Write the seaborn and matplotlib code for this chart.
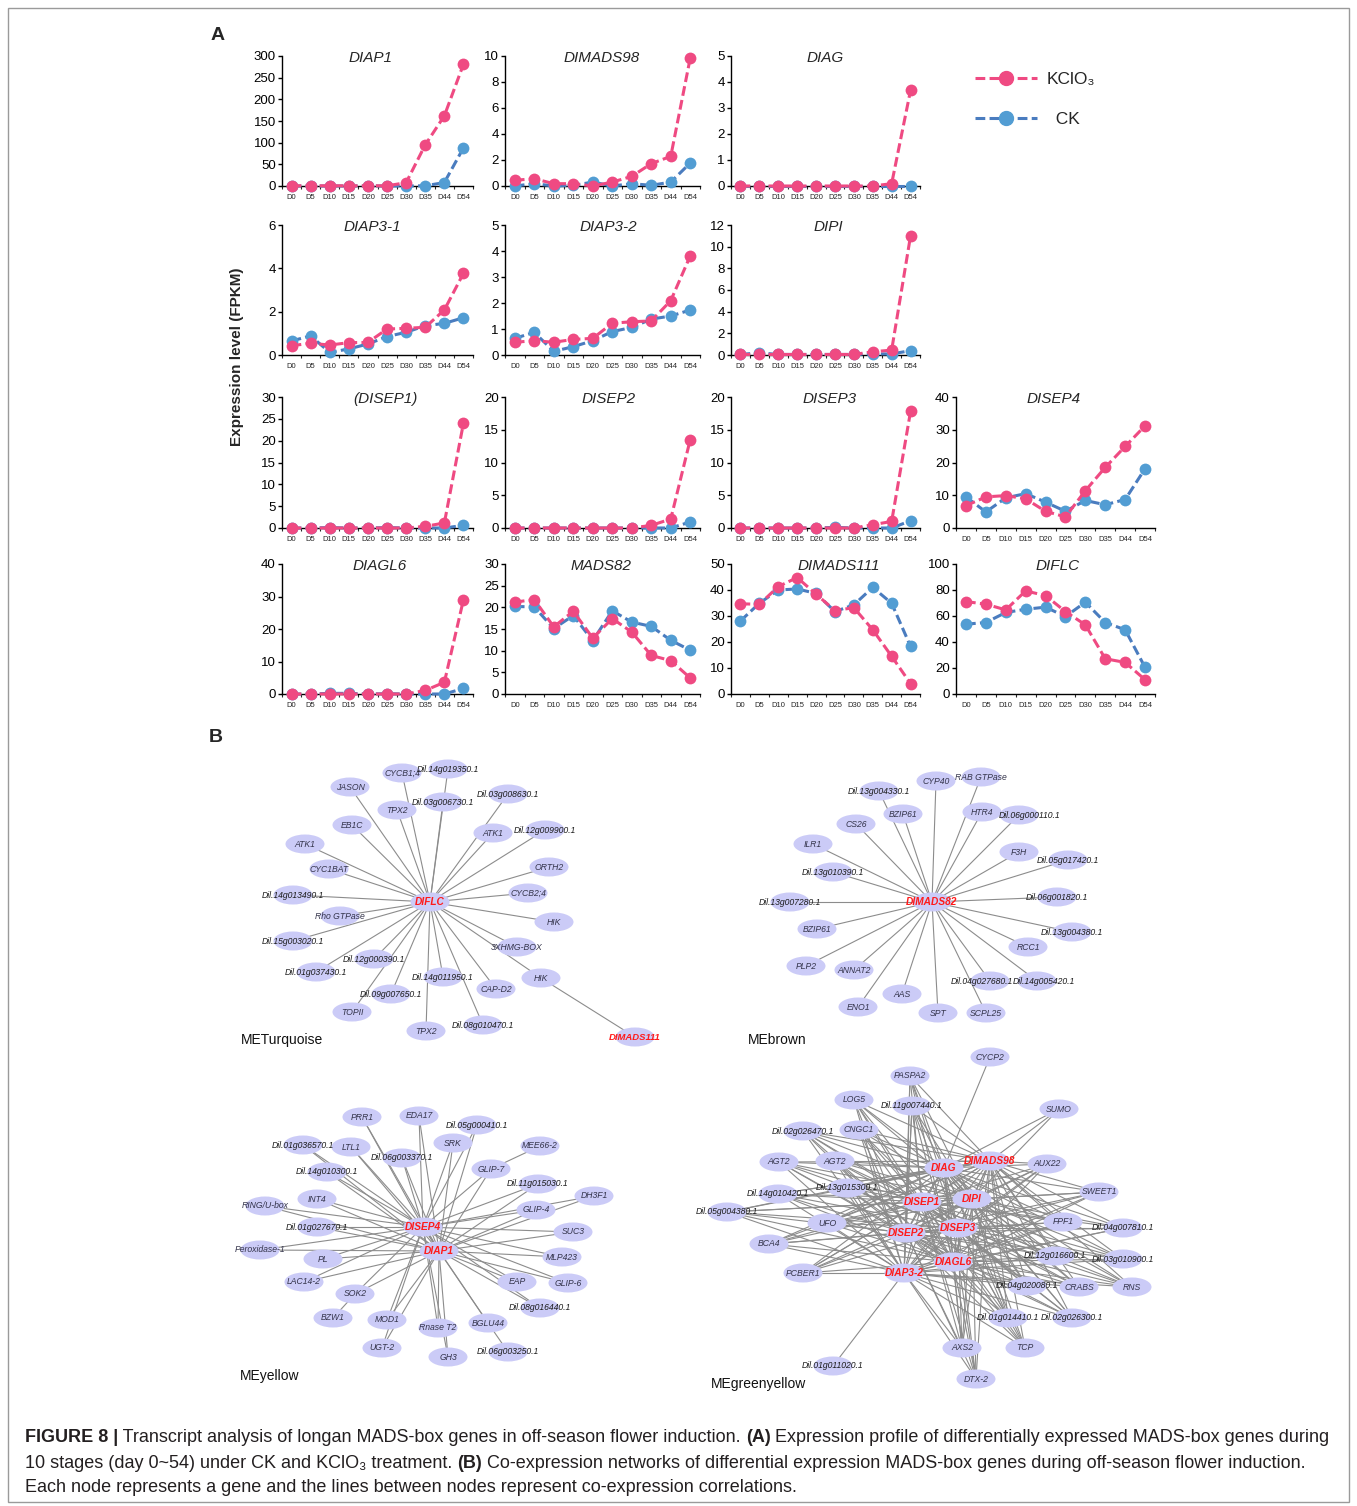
"""Figure 8 -- MADS-box expression profiles (A) and co-expression networks (B)."""

import numpy as np
import pandas as pd
import matplotlib
matplotlib.use("Agg")
import matplotlib.pyplot as plt
from matplotlib import font_manager
from matplotlib.lines import Line2D
from matplotlib.patches import Ellipse, Rectangle
import seaborn as sns

# ── A: expression data (FPKM) ────────────────────────────────────────────
stages = ["D0", "D5", "D10", "D15", "D20", "D25", "D30", "D35", "D44", "D54"]

diap1_kclo3 = [0.5, 0.5, 0.5, 0.5, 0.5, 0.5, 7.7, 95, 162, 281]
diap1_ck = [0, 0, 0, 0, 0, 0, 0, 0.5, 8, 88]
dimads98_kclo3 = [0.44, 0.56, 0.18, 0.18, 0.0, 0.3, 0.74, 1.72, 2.28, 9.85]
dimads98_ck = [0.0, 0.18, 0.0, 0.05, 0.3, 0.0, 0.18, 0.05, 0.3, 1.77]
diag_kclo3 = [0, 0, 0, 0, 0, 0, 0, 0, 0.09, 3.68]
diag_ck = [0, 0, 0, 0, 0, 0, 0, 0, 0, 0]
diap31_kclo3 = [0.43, 0.54, 0.46, 0.57, 0.58, 1.2, 1.23, 1.28, 2.08, 3.77]
diap31_ck = [0.65, 0.88, 0.12, 0.28, 0.51, 0.85, 1.05, 1.35, 1.46, 1.72]
diap32_kclo3 = [0.49, 0.55, 0.49, 0.6, 0.64, 1.22, 1.28, 1.31, 2.09, 3.81]
diap32_ck = [0.64, 0.87, 0.14, 0.32, 0.55, 0.9, 1.06, 1.38, 1.5, 1.73]
dipi_kclo3 = [0.05, 0.05, 0.05, 0.05, 0.05, 0.05, 0.05, 0.3, 0.45, 11.0]
dipi_ck = [0.05, 0.2, 0.05, 0.05, 0.05, 0.05, 0.05, 0.1, 0.1, 0.4]
disep1_kclo3 = [0, 0, 0, 0, 0, 0, 0, 0.38, 1.15, 24.0]
disep1_ck = [0, 0, 0.1, 0, 0, 0.1, 0, 0, 0, 0.6]
disep2_kclo3 = [0, 0, 0, 0, 0, 0, 0, 0.4, 1.37, 13.5]
disep2_ck = [0, 0, 0, 0, 0, 0, 0, 0, 0, 0.92]
disep3_kclo3 = [0, 0, 0, 0, 0, 0, 0, 0.5, 1.0, 17.8]
disep3_ck = [0, 0, 0, 0, 0, 0.1, 0, 0, 0, 1.1]
disep4_kclo3 = [6.8, 9.5, 9.9, 8.9, 5.1, 3.4, 11.4, 18.5, 24.9, 31.2]
disep4_ck = [9.5, 4.9, 9.2, 10.5, 7.9, 5.1, 8.4, 7.1, 8.7, 18.1]
diagl6_kclo3 = [0, 0, 0, 0, 0, 0, 0, 1.1, 3.6, 29.0]
diagl6_ck = [0, 0, 0.2, 0.2, 0, 0.1, 0, 0, 0, 1.7]
mads82_kclo3 = [21.2, 21.8, 15.5, 19.1, 12.9, 17.4, 14.3, 8.9, 7.7, 3.7]
mads82_ck = [20.2, 20.1, 15.1, 18.1, 12.3, 19.2, 16.6, 15.6, 12.4, 10.1]
dimads111_kclo3 = [34.7, 34.5, 41.3, 44.8, 38.4, 32.1, 33.2, 24.7, 14.5, 4.0]
dimads111_ck = [28.1, 34.9, 40.0, 40.4, 38.7, 31.7, 34.3, 41.0, 34.9, 18.3]
diflc_kclo3 = [71.1, 69.1, 64.7, 79.3, 75.7, 63.4, 53.2, 27.1, 24.3, 11.0]
diflc_ck = [53.7, 55.0, 62.7, 65.2, 66.8, 59.6, 70.6, 55.0, 49.4, 20.5]

# title, KClO3 series, CK series, y max, y step
panels = [
    ("DIAP1", diap1_kclo3, diap1_ck, 300, 50),
    ("DIMADS98", dimads98_kclo3, dimads98_ck, 10, 2),
    ("DIAG", diag_kclo3, diag_ck, 5, 1),
    ("DIAP3-1", diap31_kclo3, diap31_ck, 6, 2),
    ("DIAP3-2", diap32_kclo3, diap32_ck, 5, 1),
    ("DIPI", dipi_kclo3, dipi_ck, 12, 2),
    ("(DISEP1)", disep1_kclo3, disep1_ck, 30, 5),
    ("DISEP2", disep2_kclo3, disep2_ck, 20, 5),
    ("DISEP3", disep3_kclo3, disep3_ck, 20, 5),
    ("DISEP4", disep4_kclo3, disep4_ck, 40, 10),
    ("DIAGL6", diagl6_kclo3, diagl6_ck, 40, 10),
    ("MADS82", mads82_kclo3, mads82_ck, 30, 5),
    ("DIMADS111", dimads111_kclo3, dimads111_ck, 50, 10),
    ("DIFLC", diflc_kclo3, diflc_ck, 100, 20),
]

# ── B: co-expression networks ────────────────────────────────────────────
turq_hub = "DIFLC"
turq_genes = ["CYCB1;4", "Dil.14g019350.1", "JASON", "TPX2", "Dil.03g006730.1",
              "Dil.03g008630.1", "EB1C", "ATK1", "Dil.12g009900.1", "ATK1", "ORTH2",
              "CYC1BAT", "CYCB2;4", "Dil.14g013490.1", "HIK", "Rho GTPase",
              "3XHMG-BOX", "Dil.15g003020.1", "Dil.12g000390.1", "Dil.01g037430.1",
              "HIK", "Dil.14g011950.1", "CAP-D2", "Dil.09g007650.1", "TOPII", "TPX2",
              "Dil.08g010470.1"]
turq_extra = "DIMADS111"          # hangs off the second HIK

brown_hub = "DIMADS82"
brown_genes = ["CYP40", "RAB GTPase", "Dil.13g004330.1", "BZIP61", "HTR4",
               "Dil.06g000110.1", "CS26", "ILR1", "F3H", "Dil.05g017420.1",
               "Dil.13g010390.1", "Dil.13g007280.1", "Dil.06g001820.1", "BZIP61",
               "Dil.13g004380.1", "RCC1", "PLP2", "ANNAT2", "Dil.04g027680.1",
               "Dil.14g005420.1", "AAS", "ENO1", "SPT", "SCPL25"]

yellow_hubs = ["DISEP4", "DIAP1"]
yellow_genes = ["PRR1", "EDA17", "Dil.05g000410.1", "Dil.01g036570.1", "LTL1", "SRK",
                "MEE66-2", "Dil.06g003370.1", "GLIP-7", "Dil.14g010300.1",
                "Dil.11g015030.1", "DH3F1", "INT4", "RING/U-box", "GLIP-4",
                "Dil.01g027670.1", "SUC3", "Peroxidase-1", "PL", "MLP423", "LAC14-2",
                "EAP", "GLIP-6", "SOK2", "Dil.08g016440.1", "BZW1", "MOD1", "Rnase T2",
                "BGLU44", "UGT-2", "GH3", "Dil.06g003250.1"]
# satellite genes linked to a neighbour instead of the hubs
yellow_side = {"MEE66-2": "GLIP-7", "BZW1": "SOK2", "Dil.06g003250.1": "BGLU44"}

gy_hubs = ["DIAG", "DIMADS98", "DISEP1", "DIPI", "DISEP2", "DISEP3", "DIAGL6", "DIAP3-2"]
gy_genes = ["CYCP2", "PASPA2", "LOG5", "Dil.11g007440.1", "SUMO", "Dil.02g026470.1",
            "CNGC1", "AGT2", "AGT2", "AUX22", "Dil.13g015300.1", "Dil.14g010420.1",
            "SWEET1", "Dil.05g004380.1", "UFO", "FPF1", "Dil.04g007810.1", "BCA4",
            "Dil.12g016600.1", "Dil.03g010900.1", "PCBER1", "Dil.04g020080.1", "CRABS",
            "RNS", "Dil.01g014410.1", "Dil.02g026300.1", "AXS2", "TCP", "DTX-2",
            "Dil.01g011020.1"]
gy_partial = {"CYCP2": ["DIAG"], "SUMO": ["DIAG", "DIMADS98", "DIPI"],
              "Dil.01g011020.1": ["DIAP3-2"]}

# ── layout (figure pixels) ───────────────────────────────────────────────
W, H = 1357, 1506
col_l = [282, 505, 731, 956]
col_r = [473, 700, 920, 1155]
row_t = [56, 225, 397, 564]
row_b = [186, 355, 528, 694]
grid = [(0, 0), (0, 1), (0, 2), (1, 0), (1, 1), (1, 2), (2, 0), (2, 1), (2, 2), (2, 3),
        (3, 0), (3, 1), (3, 2), (3, 3)]
title_x = [0.464, 0.496, 0.497, 0.475, 0.53, 0.513, 0.543, 0.53, 0.524, 0.488,
           0.51, 0.49, 0.571, 0.51]

turq_hub_xy = (430, 902)
turq_xy = [(402, 773), (448, 769), (350, 787), (397, 810), (443, 802), (508, 794),
           (352, 825), (493, 833), (545, 830), (305, 844), (549, 867), (329, 869),
           (528, 893), (293, 895), (554, 922), (340, 916), (517, 947), (293, 941),
           (374, 959), (316, 972), (541, 978), (443, 977), (496, 989), (391, 994),
           (352, 1012), (426, 1031), (483, 1025)]
turq_extra_xy = (635, 1037)

brown_hub_xy = (932, 902)
brown_xy = [(936, 781), (981, 777), (879, 791), (903, 814), (982, 812), (1019, 815),
            (856, 824), (813, 844), (1019, 852), (1068, 860), (833, 872), (790, 902),
            (1057, 897), (817, 929), (1072, 932), (1028, 947), (806, 966), (854, 970),
            (990, 981), (1037, 981), (902, 994), (858, 1007), (938, 1013), (986, 1013)]
# label nudges where a gene id sits beside its node
brown_label_dx = {5: 11, 18: -8, 19: 7}

yellow_hub_xy = [(423, 1227), (439, 1251)]
yellow_xy = [(362, 1117), (419, 1116), (477, 1125), (303, 1145), (351, 1147), (453, 1143),
             (540, 1146), (402, 1158), (491, 1169), (327, 1172), (538, 1184), (594, 1196),
             (317, 1199), (265, 1206), (536, 1210), (317, 1227), (573, 1232), (260, 1250),
             (323, 1259), (562, 1257), (304, 1282), (517, 1282), (568, 1283), (355, 1294),
             (540, 1308), (333, 1318), (387, 1320), (438, 1328), (488, 1323), (382, 1348),
             (448, 1357), (508, 1352)]

gy_hub_xy = [(944, 1168), (990, 1161), (922, 1202), (972, 1199), (906, 1233),
             (958, 1228), (953, 1262), (904, 1273)]
gy_xy = [(990, 1057), (910, 1076), (854, 1100), (912, 1106), (1059, 1109), (803, 1131),
         (859, 1130), (779, 1162), (835, 1161), (1047, 1164), (847, 1188), (778, 1194),
         (1099, 1192), (727, 1212), (827, 1223), (1063, 1222), (1123, 1228), (769, 1244),
         (1055, 1256), (1123, 1259), (803, 1273), (1027, 1286), (1079, 1287), (1132, 1287),
         (1008, 1318), (1072, 1318), (962, 1348), (1025, 1348), (976, 1379), (833, 1366)]

PINK = "#EF4A82"
BLUE_LINE = "#4A7CBF"
BLUE_DOT = "#529DD3"
NODE = "#CBCBF7"
EDGE = "#8C8C8C"
DASH = (0, (3.2, 1.4))


def px_rect(l, t, r, b):
    return [l / W, 1 - b / H, (r - l) / W, (b - t) / H]


def main():
    sns.set_theme(style="ticks")
    plt.rcParams["font.family"] = ["Liberation Sans", "DejaVu Sans"]
    plt.rcParams["axes.linewidth"] = 1.0

    fig = plt.figure(figsize=(W / 100, H / 100), dpi=100)

    # overlay in pixel units for the networks, frame and labels
    net = fig.add_axes([0, 0, 1, 1])
    net.set_xlim(0, W)
    net.set_ylim(H, 0)
    net.axis("off")
    net.add_patch(Rectangle((8, 8), W - 16, H - 12, fill=False, edgecolor="#9a9a9a", lw=1))

    # ── A: line panels ───────────────────────────────────────────────────
    rows = []
    for name, kc, ck, _, _ in panels:
        for i, st in enumerate(stages):
            rows.append({"gene": name, "pos": i, "stage": st, "treat": "KClO3", "fpkm": kc[i]})
            rows.append({"gene": name, "pos": i, "stage": st, "treat": "CK", "fpkm": ck[i]})
    df = pd.DataFrame(rows)

    for k, (name, _, _, ymax, step) in enumerate(panels):
        r, c = grid[k]
        ax = fig.add_axes(px_rect(col_l[c], row_t[r], col_r[c], row_b[r]))
        ax.patch.set_visible(False)
        sub = df[df["gene"] == name]
        for treat, lc, mc, z in [("CK", BLUE_LINE, BLUE_DOT, 3), ("KClO3", PINK, PINK, 4)]:
            s = sub[sub["treat"] == treat]
            sns.lineplot(data=s, x="pos", y="fpkm", ax=ax, color=lc, linewidth=2.2,
                         linestyle=DASH, marker="o", markersize=8.5,
                         markerfacecolor=mc, markeredgecolor=mc, markeredgewidth=0,
                         clip_on=False, zorder=z)
        ax.set_xlim(-0.5, 9.5)
        ax.set_ylim(0, ymax)
        ax.set_yticks(np.arange(0, ymax + step / 2, step))
        ax.set_xticks(range(len(stages)))
        ax.set_xticklabels(stages)
        ax.set_xticks(np.arange(-0.5, len(stages), 1.0), minor=True)
        ax.set_xlabel("")
        ax.set_ylabel("")
        ax.tick_params(axis="y", direction="out", length=3, width=1, pad=1.5,
                       labelsize=9.5, colors="black")
        ax.tick_params(axis="x", which="major", length=0, pad=6, labelsize=5.5)
        ax.tick_params(axis="x", which="minor", direction="out", length=2.5, width=0.8)
        for sp in ("left", "bottom"):
            ax.spines[sp].set_color("black")
        sns.despine(ax=ax)
        ax.text(title_x[k], 0.985, name, transform=ax.transAxes, ha="center",
                va="center", fontsize=11, style="italic")

    handles = [
        Line2D([0], [0], color=PINK, lw=2.2, ls=DASH, marker="o", markersize=10,
               markerfacecolor=PINK, markeredgecolor=PINK),
        Line2D([0], [0], color=BLUE_LINE, lw=2.2, ls=DASH, marker="o", markersize=10,
               markerfacecolor=BLUE_DOT, markeredgecolor=BLUE_DOT),
    ]
    fig.legend(handles, ["KClO\u2083", "  CK"], loc="upper left",
               bbox_to_anchor=(975 / W, 1 - 72 / H), frameon=False, handlelength=3.55,
               handletextpad=0.55, labelspacing=1.42, fontsize=12.5, borderpad=0,
               borderaxespad=0)

    fig.text(237 / W, 1 - 357 / H, "Expression level (FPKM)", rotation=90,
             ha="center", va="center", fontsize=11, fontweight="bold")
    fig.text(218 / W, 1 - 35 / H, "A", ha="center", va="center", fontsize=14,
             fontweight="bold")
    fig.text(216 / W, 1 - 737 / H, "B", ha="center", va="center", fontsize=14,
             fontweight="bold")

    # ── B: networks ──────────────────────────────────────────────────────
    def edge(p, q):
        net.plot([p[0], q[0]], [p[1], q[1]], color=EDGE, lw=0.8, zorder=1)

    def node(p, label, hub=False, dx=0):
        net.add_patch(Ellipse(p, 39, 19, facecolor=NODE, edgecolor="none", zorder=2))
        if hub:
            net.text(p[0], p[1], label, ha="center", va="center", fontsize=7.3,
                     style="italic", fontweight="bold", color="#FF1A1A", zorder=3)
        else:
            col = "#1a1a1a" if label.startswith("Dil") else "#33334a"
            net.text(p[0] + dx, p[1], label, ha="center", va="center", fontsize=6.2,
                     style="italic", color=col, zorder=3)

    # METurquoise
    for p in turq_xy:
        edge(turq_hub_xy, p)
    edge(turq_xy[20], turq_extra_xy)
    for p, g in zip(turq_xy, turq_genes):
        node(p, g)
    node(turq_hub_xy, turq_hub, hub=True)
    net.add_patch(Ellipse(turq_extra_xy, 39, 19, facecolor=NODE, edgecolor="none", zorder=2))
    net.text(turq_extra_xy[0], turq_extra_xy[1], turq_extra, ha="center", va="center",
             fontsize=6.8, style="italic", fontweight="bold", color="#FF1A1A", zorder=3)

    # MEbrown
    for p in brown_xy:
        edge(brown_hub_xy, p)
    for i, (p, g) in enumerate(zip(brown_xy, brown_genes)):
        node(p, g, dx=brown_label_dx.get(i, 0))
    node(brown_hub_xy, brown_hub, hub=True)

    # MEyellow
    idx = {g: i for i, g in enumerate(yellow_genes)}
    for p, g in zip(yellow_xy, yellow_genes):
        if g in yellow_side:
            edge(p, yellow_xy[idx[yellow_side[g]]])
        else:
            for h in yellow_hub_xy:
                edge(h, p)
    edge(yellow_hub_xy[0], yellow_hub_xy[1])
    for p, g in zip(yellow_xy, yellow_genes):
        node(p, g)
    for p, g in zip(yellow_hub_xy, yellow_hubs):
        node(p, g, hub=True)

    # MEgreenyellow
    hub_at = dict(zip(gy_hubs, gy_hub_xy))
    for p, g in zip(gy_xy, gy_genes):
        for h in gy_partial.get(g, gy_hubs):
            edge(hub_at[h], p)
    for i in range(len(gy_hubs)):
        for j in range(i + 1, len(gy_hubs)):
            edge(gy_hub_xy[i], gy_hub_xy[j])
    for p, g in zip(gy_xy, gy_genes):
        node(p, g)
    for p, g in zip(gy_hub_xy, gy_hubs):
        node(p, g, hub=True)

    for x, y, lab in [(241, 1040, "METurquoise"), (748, 1040, "MEbrown"),
                      (240, 1376, "MEyellow"), (711, 1384, "MEgreenyellow")]:
        net.text(x, y, lab, ha="left", va="center", fontsize=10, color="#111111")

    # ── caption ──────────────────────────────────────────────────────────
    names = {f.name for f in font_manager.fontManager.ttflist}
    cap_fam = ["Liberation Sans Narrow" if "Liberation Sans Narrow" in names
               else "Liberation Sans", "DejaVu Sans"]
    lines = [
        [("FIGURE 8 |", "bold"),
         (" Transcript analysis of longan MADS-box genes in off-season flower induction. ", "normal"),
         ("(A)", "bold"),
         (" Expression profile of differentially expressed MADS-box genes during", "normal")],
        [("10 stages (day 0~54) under CK and KClO\u2083 treatment. ", "normal"),
         ("(B)", "bold"),
         (" Co-expression networks of differential expression MADS-box genes during off-season flower induction.", "normal")],
        [("Each node represents a gene and the lines between nodes represent co-expression correlations.", "normal")],
    ]
    rend = fig.canvas.get_renderer()

    def seg_width(text, weight, size):
        t = fig.text(0, 0, text + "|", fontsize=size, fontweight=weight, family=cap_fam)
        b = fig.text(0, 0, "|", fontsize=size, fontweight=weight, family=cap_fam)
        w = t.get_window_extent(rend).width - b.get_window_extent(rend).width
        t.remove()
        b.remove()
        return w

    base = 12.0
    w0 = sum(seg_width(t, wt, base) for t, wt in lines[0])
    size = base * (1330 - 25) / w0
    for y, runs in zip([1437, 1463, 1488], lines):
        x = 25
        for text, wt in runs:
            fig.text(x / W, 1 - y / H, text, fontsize=size, fontweight=wt, family=cap_fam,
                     ha="left", va="center", color="#231f20")
            x += seg_width(text, wt, size)

    fig.savefig("out.png", dpi=100)
    plt.close(fig)


if __name__ == "__main__":
    main()
